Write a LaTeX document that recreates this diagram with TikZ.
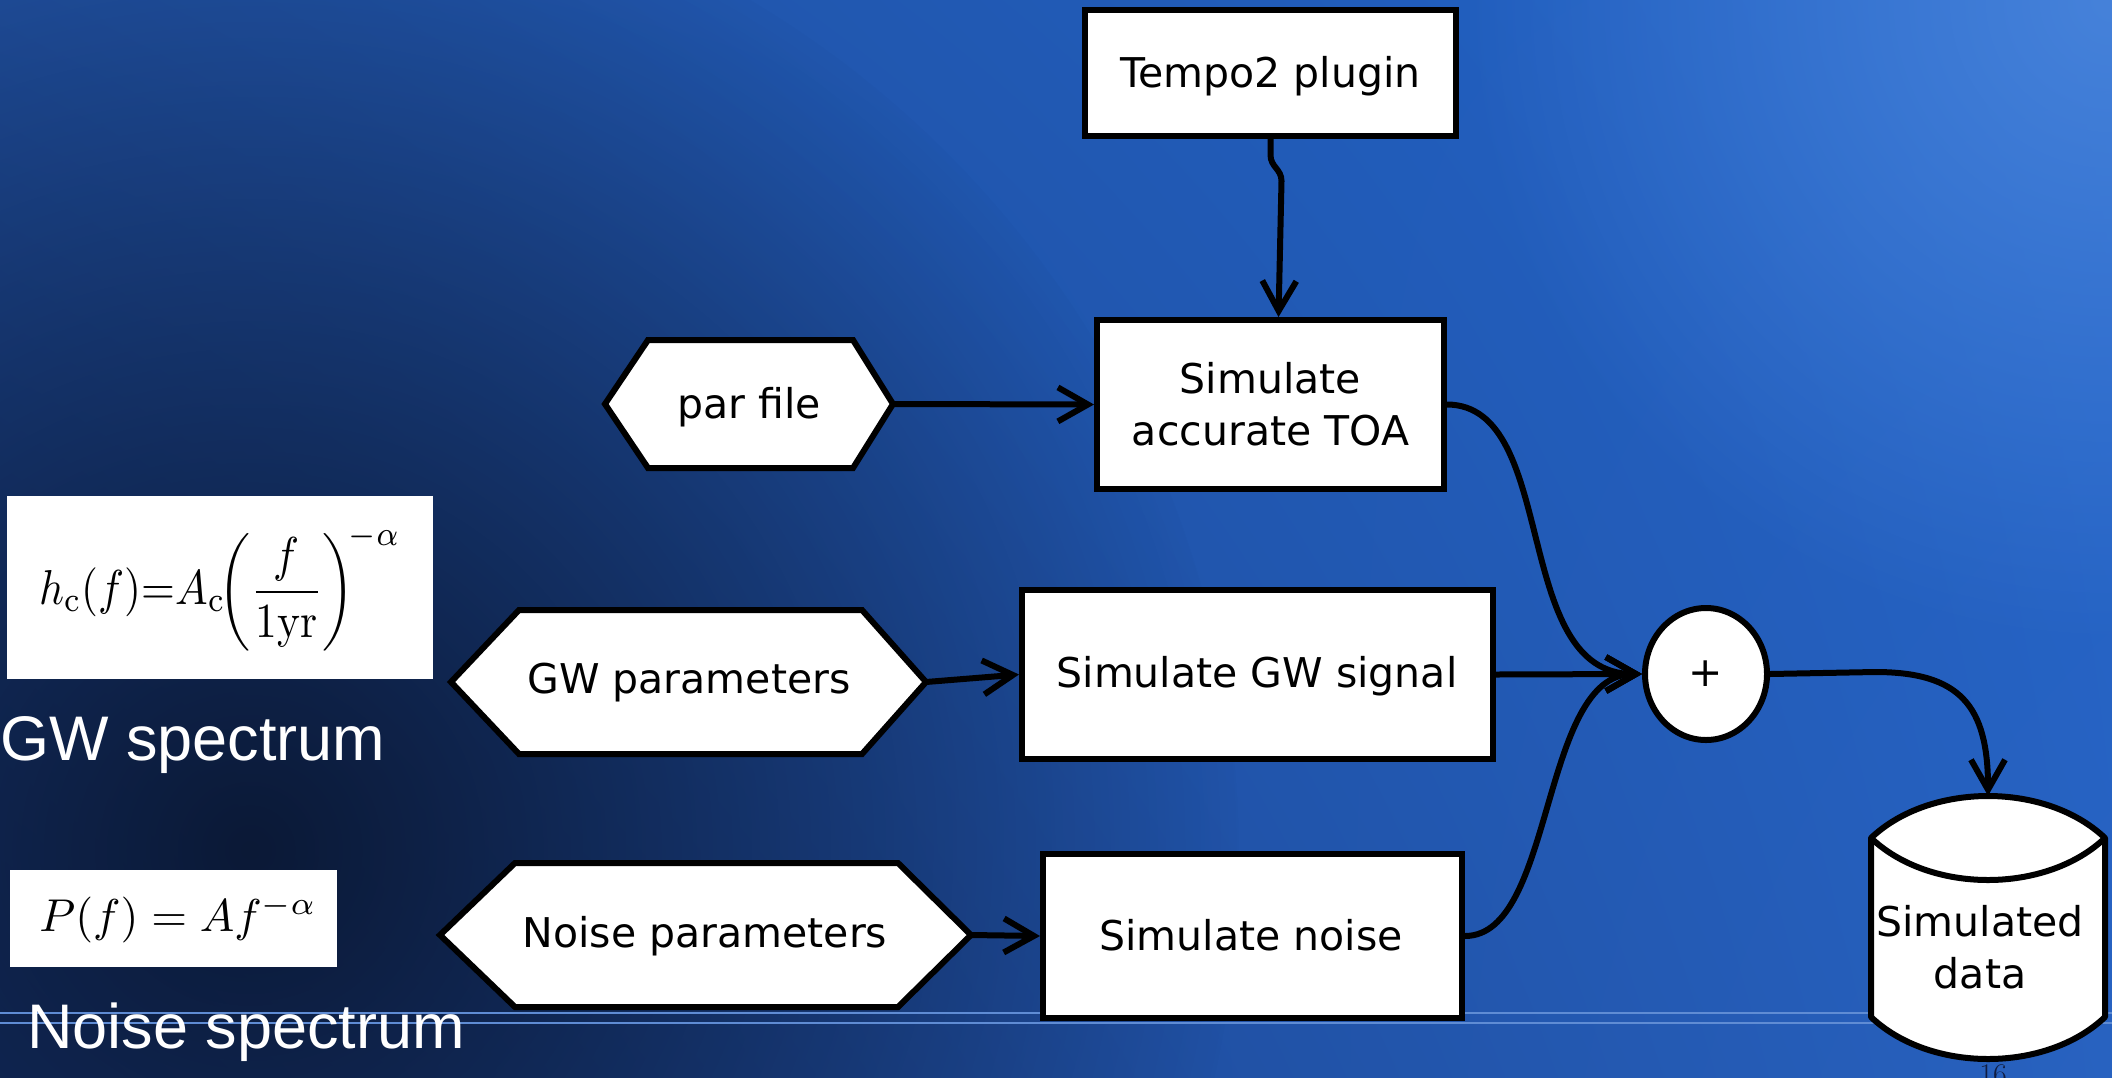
\documentclass[tikz,border=0pt]{standalone}
\usepackage{fontspec}
\usetikzlibrary{arrows.meta,shapes.geometric,shadings,fadings}
\newfontfamily\dv{DejaVu Sans}
\newfontfamily\lib{Liberation Sans}
\definecolor{bgUL}{RGB}{32,80,160}
\definecolor{bgUR}{RGB}{34,100,202}
\definecolor{bgLL}{RGB}{22,58,128}
\definecolor{bgLR}{RGB}{40,98,192}
\definecolor{bgdark}{RGB}{11,25,54}
\definecolor{bgglow}{RGB}{70,130,218}
\definecolor{rule}{RGB}{95,140,212}
\definecolor{pagenum}{RGB}{16,28,64}
\tikzfading[name=radfade, inner color=transparent!0, outer color=transparent!100]
\begin{document}
\begin{tikzpicture}[x=1pt,y=-1pt,
  box/.style={draw=black, line width=6pt, fill=white, rectangle, inner sep=0pt},
  hexshape/.style={draw=black, line width=6pt, fill=white, line join=miter},
  lbl/.style={font=\dv\fontsize{41}{52}\selectfont, align=center, inner sep=0pt, text=black},
  arr/.style={line width=6pt, -{Straight Barb[length=30pt,width=34pt,line width=6pt]}},
  side/.style={font=\lib\fontsize{63}{70}\selectfont, text=white, inner sep=0pt},
  formbox/.style={fill=white, draw=none, inner sep=0pt}
]
% background
\useasboundingbox (0,0) rectangle (2112,1077);
\begin{scope}
\clip (0,0) rectangle (2112,1077);
\shade[upper left=bgUL, upper right=bgUR, lower left=bgLL, lower right=bgLR] (0,0) rectangle (2112,1077);
\fill[bgglow, path fading=radfade] (2112,0) circle (650);
\fill[bgdark, path fading=radfade] (250,850) circle (1000);
\end{scope}
\draw[rule, line width=2.5pt] (0,1013) -- (2112,1013);
\draw[rule, line width=2.5pt] (0,1023) -- (2112,1023);

% formula boxes
\node[formbox, xscale=4.35, yscale=4.9, minimum width=97.93pt, minimum height=37.35pt] (gwform) at (220,587.5) {\raisebox{-2pt}{$\displaystyle h_{\mathrm{c}}(f){=}A_{\mathrm{c}}\!\biggl(\frac{f}{1\mathrm{yr}}\biggr)^{\!-\alpha}$}};
\node[side, anchor=base west] (gwspec) at (0,760) {GW spectrum};
\node[formbox, scale=4.6, minimum width=71.09pt, minimum height=21.09pt] (nform) at (173.5,918.5) {\hspace{2pt}$P(f) = A f^{-\alpha}$};
\node[side, anchor=base west] (nspec) at (27,1048) {Noise spectrum};

% boxes
\node[box, minimum width=371pt, minimum height=126pt] (tempo) at (1270.5,73) {};
\node[lbl, anchor=base] (tempotext) at (1270.5,87) {Tempo2 plugin};
\node[box, minimum width=347pt, minimum height=169pt, lbl, draw=black, line width=6pt, fill=white] (toa) at (1270.5,404.5) {Simulate\\accurate TOA};
\node[box, minimum width=471pt, minimum height=169pt] (gwsig) at (1257.5,674.5) {};
\node[lbl, anchor=base] (gwsigtext) at (1257,687) {Simulate GW signal};
\node[box, minimum width=419pt, minimum height=164pt] (noisesim) at (1252.5,936) {};
\node[lbl, anchor=base] (noisesimtext) at (1251,950) {Simulate noise};

% hexagons
\draw[hexshape] (605,404) -- (648,340) -- (853,340) -- (893,404) -- (853,468) -- (648,468) -- cycle;
\node[lbl, anchor=base] (par) at (749,418) {par file};
\coordinate (parR) at (893,404);
\draw[hexshape] (451,682) -- (519,610) -- (862,610) -- (926,682) -- (862,754) -- (519,754) -- cycle;
\node[lbl, anchor=base] (gwpar) at (689,693) {GW parameters};
\coordinate (gwparR) at (926,682);
\draw[hexshape] (440,935) -- (515,863) -- (898,863) -- (971,935) -- (898,1007) -- (515,1007) -- cycle;
\node[lbl, anchor=base] (npar) at (705,947) {Noise parameters};
\coordinate (nparR) at (971,935);

% plus
\node[draw=black, line width=6pt, fill=white, ellipse, minimum width=122pt, minimum height=132pt, inner sep=0pt, font=\dv\fontsize{41}{41}\selectfont] (plus) at (1706,674) {+};

% data cylinder
\node[minimum width=234pt, minimum height=263pt, inner sep=0pt] (data) at (1988,927.5) {};
\draw[black, line width=6pt, fill=white, line join=round] (1871,838) .. controls (1930,782) and (2046,782) .. (2105,838) -- (2105,1017) .. controls (2046,1073) and (1930,1073) .. (1871,1017) -- cycle;
\draw[black, line width=6pt] (1871,838) .. controls (1930,894) and (2046,894) .. (2105,838);
\node[lbl] (datatext) at (1980,947.5) {Simulated\\data};
\node[anchor=north, inner sep=0pt, font=\fontsize{30}{30}\selectfont, text=pagenum] (pg) at (1993,1064) {16};

% connectors
\draw[arr] (tempo.south) -- ++(0,16) .. controls +(0,12) and +(0,-12) .. ++(11,26) -- ([xshift=8pt]toa.north);
\draw[arr] (parR) -- (toa.west);
\draw[arr] (gwparR) -- (gwsig.west);
\draw[arr] (nparR) -- (noisesim.west);
\draw[arr] (toa.east) .. controls (1560,405) and (1510,674) .. (plus.west);
\draw[arr] (gwsig.east) -- (plus.west);
\draw[arr] (noisesim.east) .. controls (1555,936) and (1540,674) .. (plus.west);
\draw[arr] (plus.east) -- ++(105,-2) .. controls +(85,0) and +(0,-90) .. (data.north);
\end{tikzpicture}
\end{document}
